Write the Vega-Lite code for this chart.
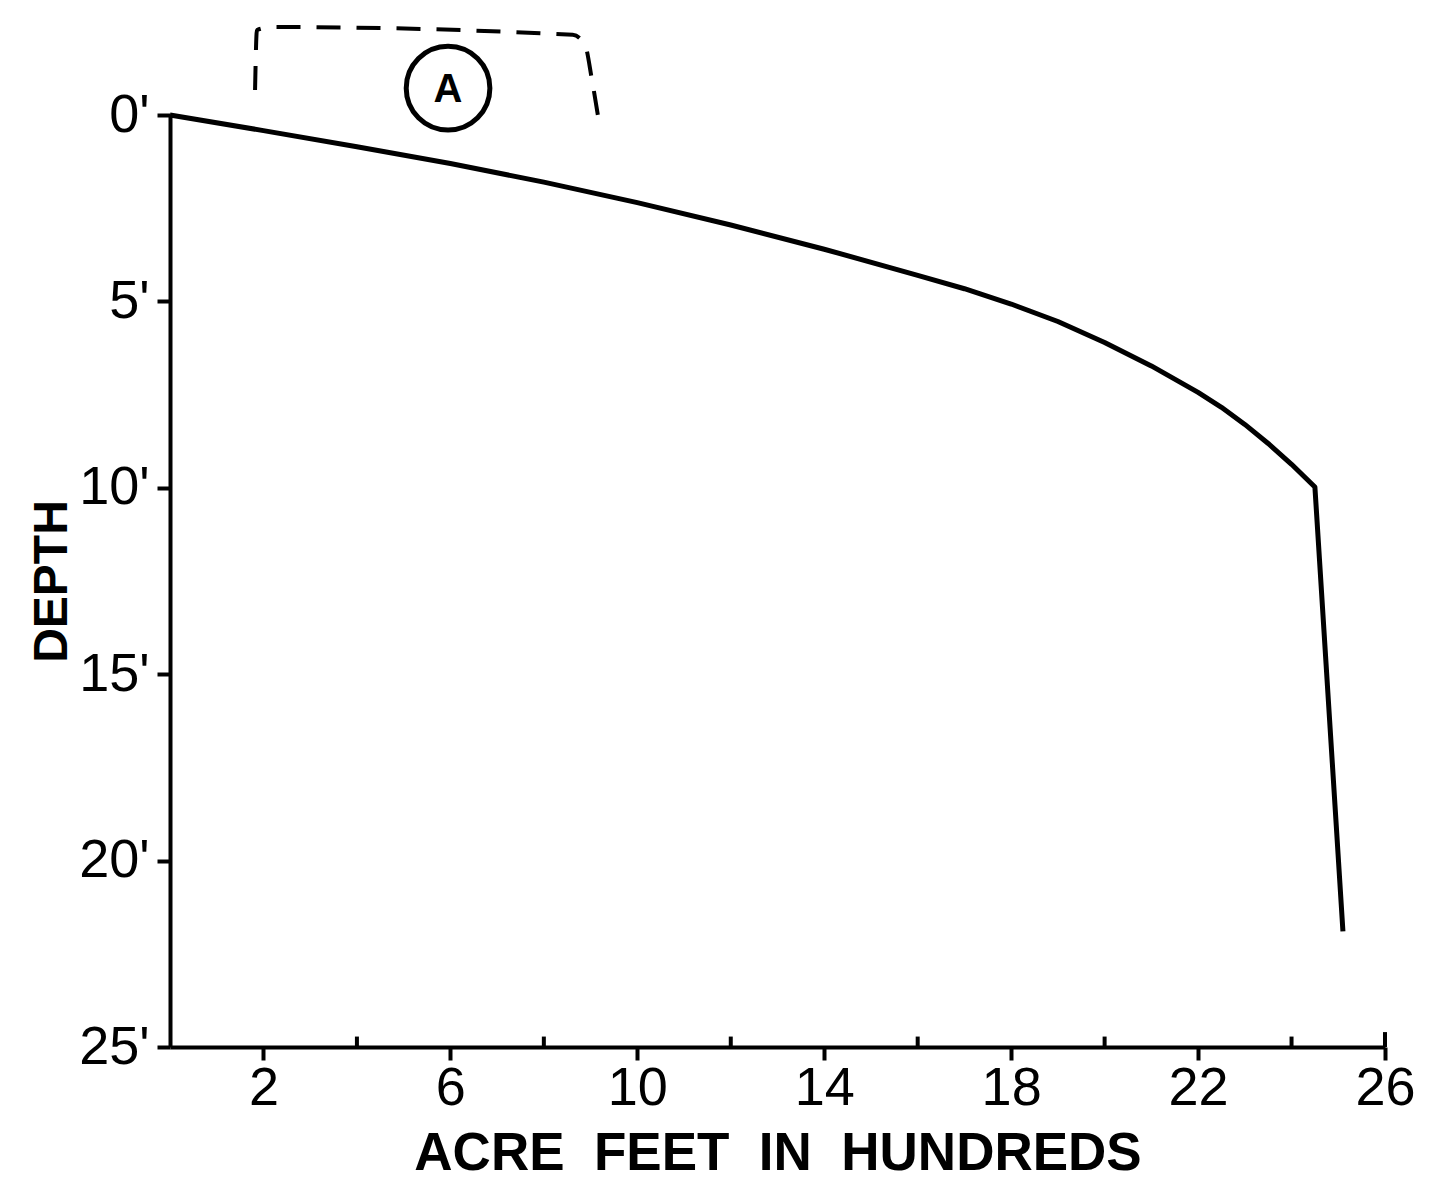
{
  "$schema": "https://vega.github.io/schema/vega-lite/v6.json",
  "width": 1215,
  "height": 932,
  "autosize": "none",
  "padding": {"left": 170, "top": 115, "right": 52, "bottom": 150},
  "background": "white",
  "config": {"view": {"stroke": null}, "font": "Liberation Sans"},
  "datasets": {
    "curve": [
      {"i": 0, "acre": 0, "depth": 0},
      {"i": 1, "acre": 2, "depth": 0.42},
      {"i": 2, "acre": 4, "depth": 0.85},
      {"i": 3, "acre": 6, "depth": 1.3},
      {"i": 4, "acre": 8, "depth": 1.8},
      {"i": 5, "acre": 10, "depth": 2.35},
      {"i": 6, "acre": 12, "depth": 2.95},
      {"i": 7, "acre": 14, "depth": 3.6},
      {"i": 8, "acre": 16, "depth": 4.3},
      {"i": 9, "acre": 17, "depth": 4.66},
      {"i": 10, "acre": 18, "depth": 5.07},
      {"i": 11, "acre": 19, "depth": 5.54},
      {"i": 12, "acre": 20, "depth": 6.1},
      {"i": 13, "acre": 21, "depth": 6.73},
      {"i": 14, "acre": 22, "depth": 7.44},
      {"i": 15, "acre": 22.5, "depth": 7.84},
      {"i": 16, "acre": 23, "depth": 8.3},
      {"i": 17, "acre": 23.5, "depth": 8.81},
      {"i": 18, "acre": 24, "depth": 9.37},
      {"i": 19, "acre": 24.5, "depth": 9.98},
      {"i": 20, "acre": 25.1, "depth": 21.9}
    ],
    "bracket": [
      {"i": 0, "acre": 1.82, "depth": -0.67},
      {"i": 1, "acre": 1.86, "depth": -2.28},
      {"i": 2, "acre": 2.2, "depth": -2.36},
      {"i": 3, "acre": 8.62, "depth": -2.15},
      {"i": 4, "acre": 8.88, "depth": -1.88},
      {"i": 5, "acre": 9.03, "depth": -0.94},
      {"i": 6, "acre": 9.18, "depth": 0.19}
    ],
    "marker": [{"acre": 5.95, "depth": -0.72, "text": "A"}],
    "minorTicks": [
      {"acre": 4, "depth": 25, "top": 24.72},
      {"acre": 8, "depth": 25, "top": 24.72},
      {"acre": 12, "depth": 25, "top": 24.72},
      {"acre": 16, "depth": 25, "top": 24.72},
      {"acre": 20, "depth": 25, "top": 24.72},
      {"acre": 24, "depth": 25, "top": 24.72},
      {"acre": 26, "depth": 25, "top": 24.6}
    ]
  },
  "layer": [
    {
      "data": {"name": "curve"},
      "mark": {"type": "line", "color": "black", "strokeWidth": 5, "clip": false, "strokeJoin": "round", "interpolate": "linear"},
      "encoding": {
        "x": {
          "field": "acre", "type": "quantitative",
          "scale": {"domain": [0, 26], "nice": false, "zero": false},
          "axis": {
            "values": [2, 6, 10, 14, 18, 22, 26],
            "title": "ACRE\u00a0\u00a0FEET\u00a0\u00a0IN\u00a0\u00a0HUNDREDS",
            "titleFontSize": 53, "titleFontWeight": "bold", "titleColor": "black",
            "titlePadding": 12,
            "labelFontSize": 54, "labelColor": "black", "labelPadding": 1,
            "labelFlush": false,
            "tickSize": 13, "tickWidth": 4, "tickColor": "black",
            "domainColor": "black", "domainWidth": 4, "grid": false
          }
        },
        "y": {
          "field": "depth", "type": "quantitative",
          "scale": {"domain": [0, 25], "reverse": true, "nice": false, "zero": false},
          "axis": {
            "values": [0, 5, 10, 15, 20, 25],
            "labelExpr": "datum.value + \"'\"",
            "title": "DEPTH",
            "titleFontSize": 48, "titleFontWeight": "bold", "titleColor": "black",
            "titlePadding": 2,
            "labelFontSize": 54, "labelColor": "black", "labelPadding": 8,
            "labelFlush": false,
            "tickSize": 13, "tickWidth": 4, "tickColor": "black",
            "domainColor": "black", "domainWidth": 4, "grid": false
          }
        },
        "order": {"field": "i"}
      }
    },
    {
      "data": {"name": "minorTicks"},
      "mark": {"type": "rule", "color": "black", "strokeWidth": 4},
      "encoding": {
        "x": {"field": "acre", "type": "quantitative"},
        "y": {"field": "depth", "type": "quantitative"},
        "y2": {"field": "top"}
      }
    },
    {
      "data": {"name": "bracket"},
      "mark": {"type": "line", "color": "black", "strokeWidth": 4, "strokeDash": [24, 16], "clip": false, "interpolate": "monotone"},
      "encoding": {
        "x": {"field": "acre", "type": "quantitative"},
        "y": {"field": "depth", "type": "quantitative"},
        "order": {"field": "i"}
      }
    },
    {
      "data": {"name": "marker"},
      "mark": {"type": "point", "shape": "circle", "size": 7000, "stroke": "black", "opacity": 1, "strokeOpacity": 1, "strokeWidth": 5, "filled": false, "clip": false},
      "encoding": {
        "x": {"field": "acre", "type": "quantitative"},
        "y": {"field": "depth", "type": "quantitative"}
      }
    },
    {
      "data": {"name": "marker"},
      "mark": {"type": "text", "color": "black", "fontSize": 40, "fontWeight": "bold", "baseline": "middle", "align": "center", "dy": 2, "clip": false, "font": "Liberation Sans"},
      "encoding": {
        "x": {"field": "acre", "type": "quantitative"},
        "y": {"field": "depth", "type": "quantitative"},
        "text": {"field": "text"}
      }
    }
  ]
}
